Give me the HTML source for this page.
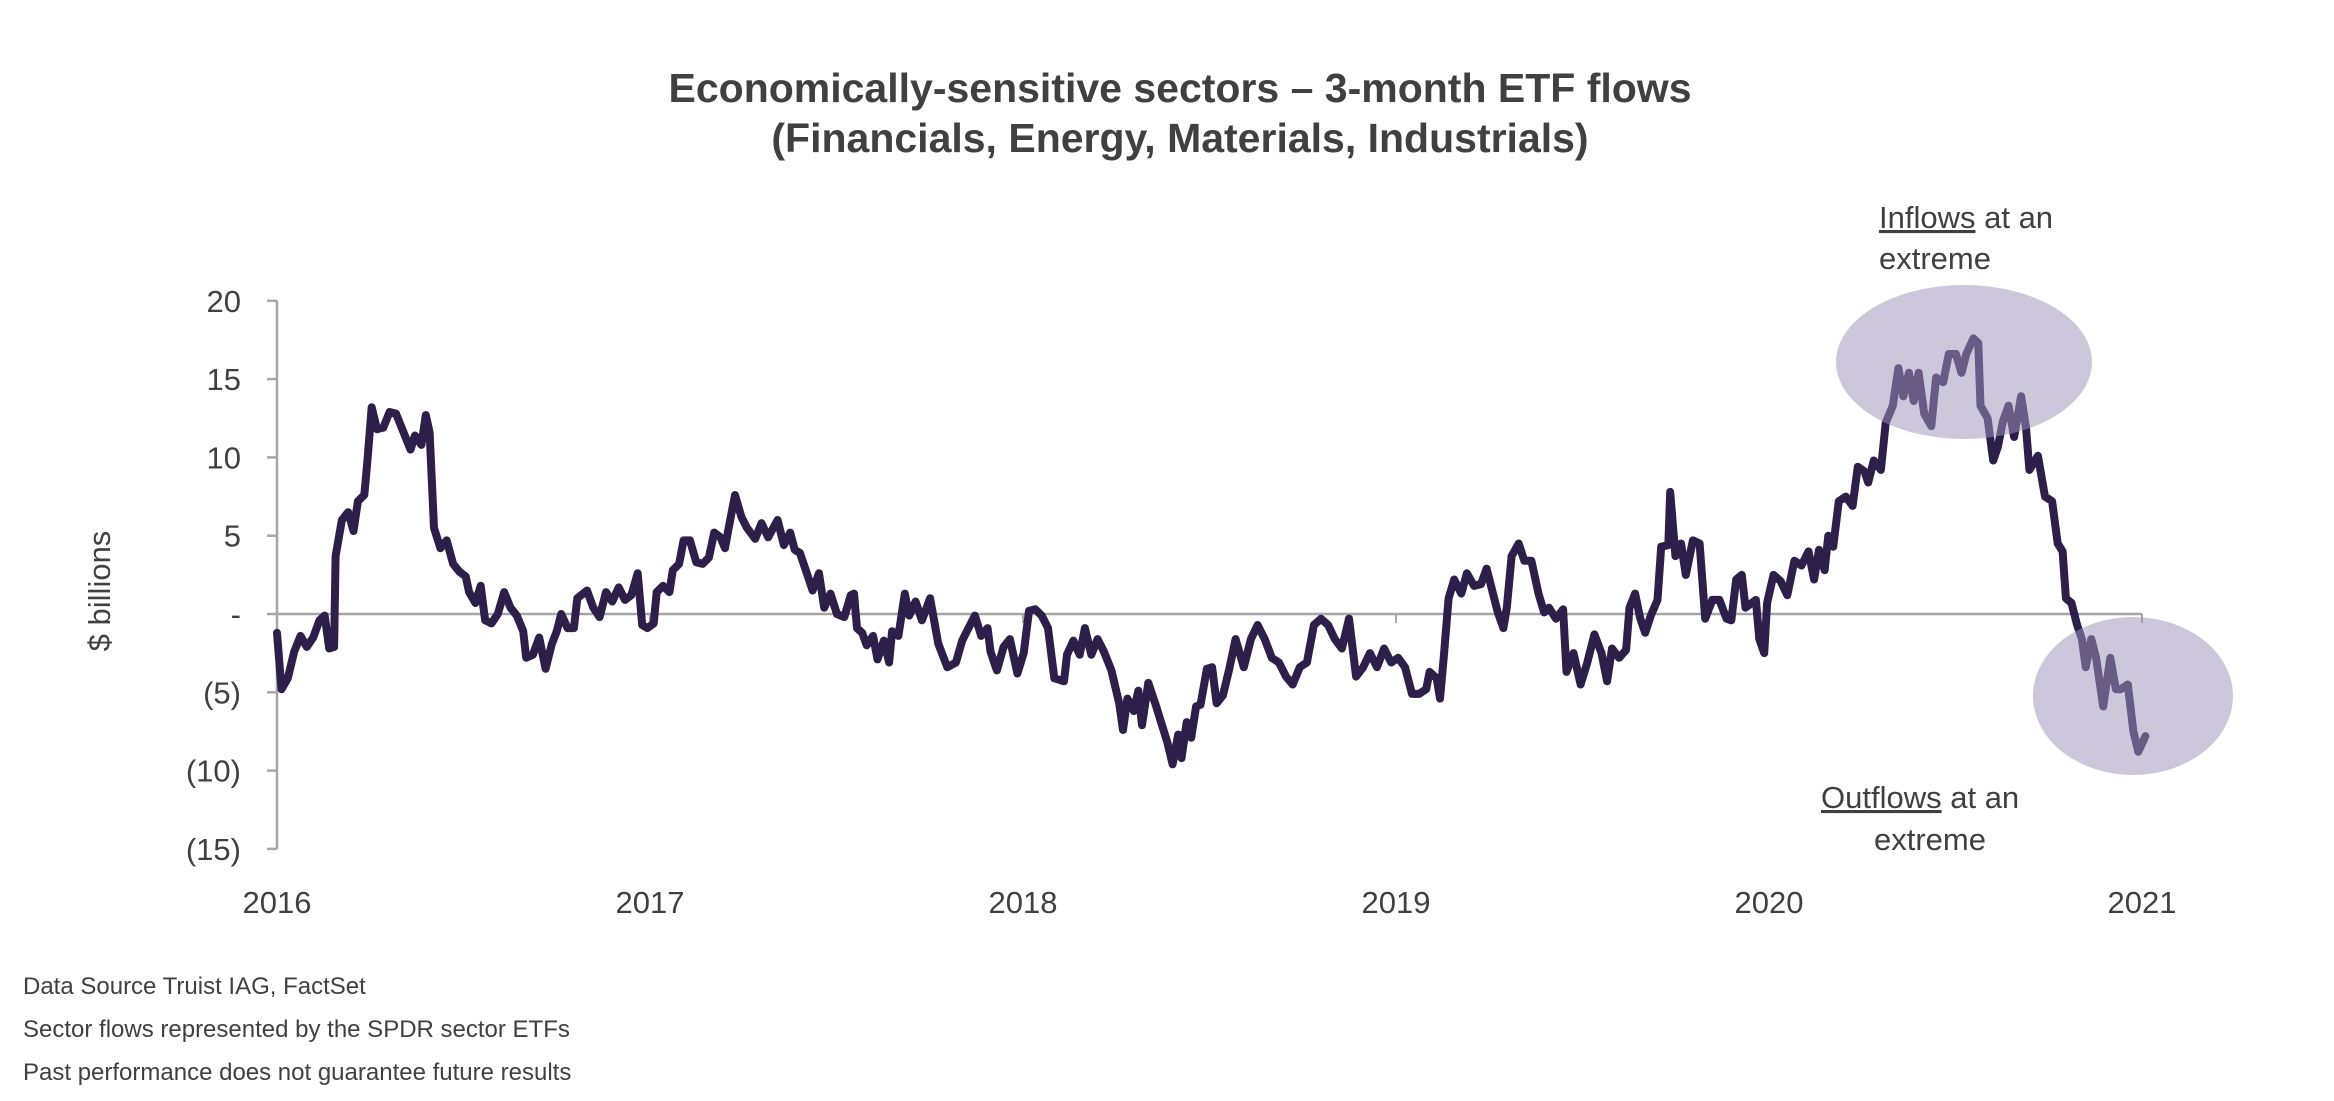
<!DOCTYPE html>
<html><head><meta charset="utf-8"><style>
body{margin:0;background:#fff;}
svg text{font-family:"Liberation Sans",sans-serif;}
</style></head><body>
<svg width="2334" height="1096" viewBox="0 0 2334 1096" xmlns="http://www.w3.org/2000/svg">
<g id="titles" fill="#404040">
<text x="1180" y="102" font-size="41" font-weight="bold" text-anchor="middle">Economically-sensitive sectors – 3-month ETF flows</text>
<text x="1180" y="152" font-size="41" font-weight="bold" text-anchor="middle">(Financials, Energy, Materials, Industrials)</text>
</g>
<text x="110" y="591" font-size="31" fill="#404040" text-anchor="middle" transform="rotate(-90 110 591)">$ billions</text>
<g id="axes"></g>
<g id="series"></g>
<ellipse cx="1964" cy="362" rx="128" ry="77" fill="rgba(160,148,188,0.52)"/>
<ellipse cx="2133" cy="696" rx="100" ry="79" fill="rgba(160,148,188,0.52)"/>
<g fill="#404040" font-size="31">
<text x="1879" y="228"><tspan text-decoration="underline">Inflows</tspan> at an</text>
<text x="1879" y="269">extreme</text>
<text x="1821" y="808"><tspan text-decoration="underline">Outflows</tspan> at an</text>
<text x="1930" y="850" text-anchor="middle">extreme</text>
</g>
<g fill="#404040" font-size="24">
<text x="23" y="994">Data Source Truist IAG, FactSet</text>
<text x="23" y="1037">Sector flows represented by the SPDR sector ETFs</text>
<text x="23" y="1080">Past performance does not guarantee future results</text>
</g>
</svg>
<script>
const yTicks=[20,15,10,5,0,-5,-10,-15];
const yTickLabels=["20","15","10","5","-","(5)","(10)","(15)"];
const xYears=[2016,2017,2018,2019,2020,2021];
const yrs=[0,.012,.029,.046,.063,.080,.097,.114,.128,.140,.153,.157,.174,.191,.205,.217,.234,.242,.254,.268,.285,.302,.319,.336,.358,.370,.387,.399,.409,.421,.438,.455,.472,.489,.506,.515,.532,.546,.558,.575,.592,.609,.626,.643,.660,.668,.686,.703,.720,.737,.750,.762,.779,.796,.805,.831,.848,.865,.882,.899,.916,.933,.950,.967,.979,.993,1.010,1.018,1.035,1.052,1.061,1.078,1.090,1.107,1.124,1.141,1.158,1.172,1.189,1.201,1.211,1.228,1.245,1.260,1.282,1.299,1.317,1.342,1.359,1.376,1.388,1.402,1.419,1.436,1.453,1.467,1.484,1.501,1.521,1.538,1.547,1.555,1.569,1.581,1.598,1.610,1.627,1.641,1.649,1.666,1.683,1.695,1.712,1.729,1.751,1.773,1.797,1.820,1.837,1.854,1.871,1.888,1.905,1.913,1.930,1.948,1.965,1.985,2.002,2.016,2.033,2.050,2.067,2.084,2.110,2.118,2.135,2.152,2.166,2.183,2.200,2.217,2.237,2.258,2.268,2.280,2.297,2.309,2.319,2.336,2.357,2.370,2.387,2.401,2.416,2.425,2.439,2.451,2.464,2.476,2.493,2.507,2.519,2.536,2.553,2.570,
2.592,2.611,2.629,2.648,2.667,2.686,2.705,2.723,2.742,2.761,2.780,2.799,2.818,2.836,2.855,2.874,2.893,2.912,2.930,2.949,2.968,2.987,3.006,3.024,3.043,3.062,3.081,3.090,3.109,3.118,3.128,3.141,3.156,3.175,3.190,3.209,3.228,3.243,3.260,3.273,3.288,3.297,3.310,3.329,3.344,3.363,3.382,3.397,3.410,3.429,3.448,3.457,3.476,3.495,3.513,3.532,3.551,3.566,3.579,3.598,3.617,3.626,3.641,3.655,3.668,3.683,3.701,3.711,3.730,3.735,3.749,3.764,3.777,3.796,3.814,3.829,3.848,3.867,3.886,3.899,3.912,3.927,3.937,3.965,3.974,3.987,3.995,4.012,4.031,4.049,4.068,4.087,4.106,4.121,4.134,4.149,4.159,4.172,4.187,4.206,4.224,4.238,4.256,4.266,4.281,4.300,4.313,4.332,4.347,4.360,4.375,4.388,4.401,4.416,4.435,4.448,4.467,4.482,4.501,4.516,4.529,4.548,4.561,4.567,4.586,4.601,4.614,4.627,4.642,4.657,4.676,4.689,4.698,4.721,4.740,4.759,4.774,4.787,4.796,4.811,4.826,4.839,4.849,4.864,4.877,4.896,4.915,4.930,4.943,4.962,4.977,4.990,5.009];
const flows=[-1.2,-4.8,-4.1,-2.4,-1.4,-2.1,-1.5,-0.4,-0.1,-2.2,-2.1,3.7,6.0,6.5,5.3,7.2,7.6,9.7,13.2,11.8,11.9,12.9,12.8,11.8,10.5,11.4,10.8,12.7,11.6,5.5,4.2,4.7,3.2,2.7,2.4,1.4,0.7,1.8,-0.4,-0.6,0,1.4,0.4,-0.1,-1.1,-2.8,-2.6,-1.5,-3.5,-1.9,-1.1,0,-0.9,-0.9,1.0,1.5,0.4,-0.2,1.4,0.8,1.7,0.9,1.2,2.6,-0.7,-0.9,-0.6,1.4,1.8,1.4,2.8,3.2,4.7,4.7,3.3,3.2,3.6,5.2,4.9,4.2,5.5,7.6,6.2,5.5,4.8,5.8,4.9,6.0,4.4,5.2,4.1,3.9,2.7,1.5,2.6,0.4,1.3,0,-0.2,1.2,1.3,-0.9,-1.2,-2.0,-1.4,-2.9,-1.7,-3.1,-1.1,-1.4,1.3,-0.1,0.8,-0.4,1.0,-1.9,-3.4,-3.1,-1.7,-0.9,-0.1,-1.4,-0.9,-2.4,-3.6,-2.1,-1.6,-3.8,-2.5,0.2,0.3,-0.1,-0.9,-4.1,-4.3,-2.6,-1.7,-2.6,-0.9,-2.6,-1.6,-2.4,-3.6,-5.7,-7.4,-5.4,-6.2,-4.9,-7.1,-4.4,-5.9,-6.9,-8.2,-9.6,-7.7,-9.2,-6.9,-7.9,-5.9,-5.8,-3.5,-3.4,-5.7,-5.2,-3.5,-1.6,
-3.4,-1.6,-0.7,-1.6,-2.8,-3.1,-4.0,-4.5,-3.4,-3.1,-0.7,-0.3,-0.7,-1.6,-2.2,-0.3,-4.0,-3.4,-2.5,-3.4,-2.2,-3.1,-2.8,-3.4,-5.1,-5.1,-4.8,-3.7,-4.1,-5.4,-2.8,1.0,2.2,1.3,2.6,1.8,1.9,2.9,1.3,0.1,-0.9,0.4,3.7,4.5,3.4,3.4,1.3,0.1,0.4,-0.3,0.3,-3.7,-2.5,-4.5,-3.1,-1.3,-2.5,-4.3,-2.2,-2.8,-2.3,0.4,1.3,-0.3,-1.2,-0.1,0.9,4.3,4.4,7.8,3.7,4.5,2.5,4.7,4.5,-0.3,0.9,0.9,-0.3,-0.4,2.2,2.5,0.4,0.9,-1.6,-2.5,0.7,2.5,2.1,1.2,3.4,3.1,4.0,2.2,4.1,2.8,5.0,4.3,7.2,7.5,6.9,9.4,9.1,8.4,9.8,9.2,12.2,13.3,15.7,13.9,15.4,13.6,15.4,12.8,12.0,15.1,14.8,16.6,16.6,15.4,16.6,17.6,17.3,13.3,12.5,9.8,10.7,12.3,13.3,11.3,13.9,11.9,9.2,10.1,7.5,7.2,4.5,4.0,1.0,0.7,-0.7,-1.6,-3.4,-1.6,-2.8,-5.9,-2.8,-4.8,-4.8,-4.5,-7.5,-8.8,-7.8];

const NS="http://www.w3.org/2000/svg";
const X0=277,YW=373,Y0=614,PER=15.66;
function xs(t){return X0+t*YW;}
function ys(v){return Y0-v*PER;}
const axes=document.getElementById('axes');
function mk(tag,attrs,parent){const e=document.createElementNS(NS,tag);for(const k in attrs)e.setAttribute(k,attrs[k]);parent.appendChild(e);return e;}
const yAxis=mk('line',{x1:X0,y1:ys(20),x2:X0,y2:ys(-15),stroke:'#a6a6a6','stroke-width':2.5},axes);


const zl=mk('line',{x1:X0,y1:Y0,x2:xs(5),y2:Y0,stroke:'#a6a6a6','stroke-width':2.5},axes);


yTicks.forEach((v,i)=>{
  const t=mk('line',{x1:X0-10,y1:ys(v),x2:X0,y2:ys(v),stroke:'#a6a6a6','stroke-width':2.5},axes);
  
  
  const l=mk('text',{x:X0-36,y:ys(v)+11,'font-size':31,fill:'#404040','text-anchor':'end'},axes);
  l.textContent=yTickLabels[i];
  
  
});
xYears.forEach(y=>{
  const x=xs(y-2016);
  const t=mk('line',{x1:x,y1:Y0,x2:x,y2:Y0+9,stroke:'#a6a6a6','stroke-width':2},axes);
  
  
  const l=mk('text',{x:x,y:913,'font-size':31,fill:'#404040','text-anchor':'middle'},axes);
  l.textContent=String(y);
  
  
});
const d=yrs.map((t,i)=>(i?'L':'M')+xs(t).toFixed(1)+' '+ys(flows[i]).toFixed(1)).join(' ');
const p=mk('path',{d:d,fill:'none',stroke:'#2d1f4a','stroke-width':8,'stroke-linejoin':'round','stroke-linecap':'round'},document.getElementById('series'));


</script>
</body></html>
